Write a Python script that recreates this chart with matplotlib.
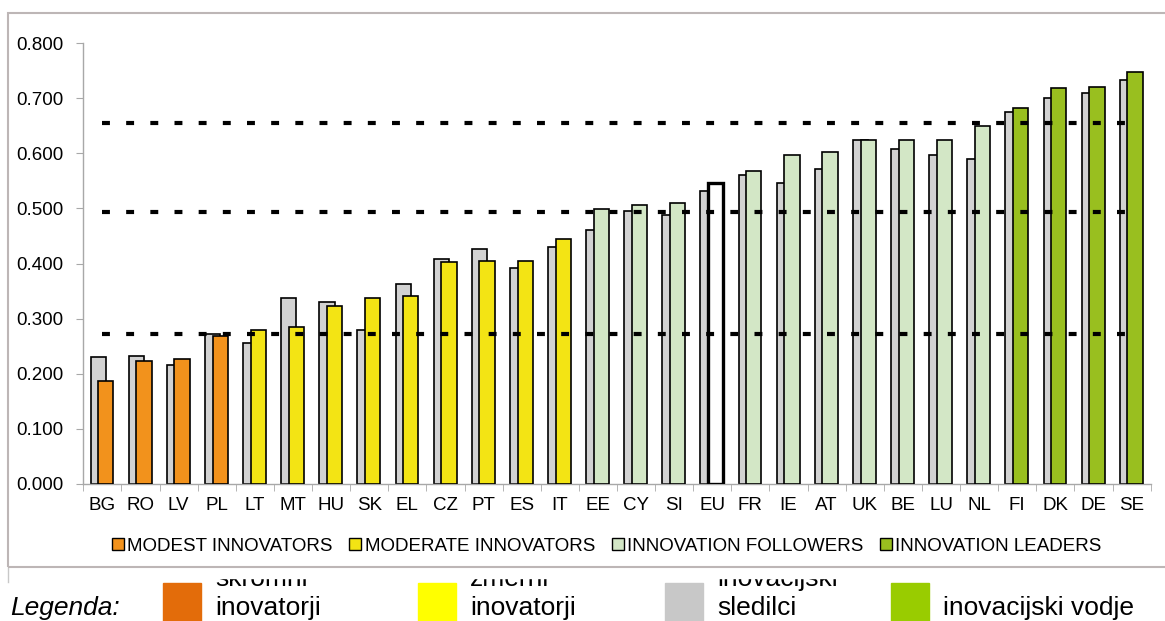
import numpy as np
import matplotlib.pyplot as plt
from matplotlib.patches import Rectangle
from matplotlib.lines import Line2D

countries = ['BG', 'RO', 'LV', 'PL', 'LT', 'MT', 'HU', 'SK', 'EL', 'CZ', 'PT', 'ES', 'IT',
             'EE', 'CY', 'SI', 'EU', 'FR', 'IE', 'AT', 'UK', 'BE', 'LU', 'NL', 'FI', 'DK', 'DE', 'SE']
previous = [0.230, 0.233, 0.216, 0.272, 0.255, 0.338, 0.331, 0.280, 0.363, 0.409, 0.427, 0.391, 0.430,
            0.460, 0.495, 0.488, 0.532, 0.561, 0.546, 0.571, 0.624, 0.607, 0.596, 0.589, 0.674, 0.700, 0.710, 0.732]
current = [0.187, 0.223, 0.226, 0.268, 0.280, 0.284, 0.323, 0.337, 0.341, 0.402, 0.405, 0.405, 0.445,
           0.498, 0.506, 0.509, 0.546, 0.567, 0.596, 0.603, 0.624, 0.624, 0.624, 0.650, 0.682, 0.718, 0.721, 0.747]
groups = ['modest'] * 4 + ['moderate'] * 9 + ['follower'] * 3 + ['eu'] + ['follower'] * 7 + ['leader'] * 4
thresholds = [0.273, 0.493, 0.654]

group_colors = {'modest': '#F2921C', 'moderate': '#F3E414', 'follower': '#D3E7C6',
                'leader': '#99BF1F', 'eu': 'white'}
legend_labels = ['MODEST INNOVATORS', 'MODERATE INNOVATORS', 'INNOVATION FOLLOWERS', 'INNOVATION LEADERS']
legend_keys = ['modest', 'moderate', 'follower', 'leader']

legenda_labels = [('skromni', 'inovatorji'), ('zmerni', 'inovatorji'),
                  ('inovacijski', 'sledilci'), ('', 'inovacijski vodje')]
legenda_colors = ['#E36C0A', '#FFFF00', '#C8C8C8', '#99CC00']

W, H = 1165, 621
plt.rcParams['font.family'] = ['Liberation Sans', 'DejaVu Sans']

fig = plt.figure(figsize=(W / 100, H / 100), dpi=100)
ax = fig.add_axes([83.3 / W, 1 - 484 / H, (1150.7 - 83.3) / W, (484 - 43) / H])

x = np.arange(len(countries))
bw = 0.40
ax.bar(x - 0.11, previous, width=bw, color='#D2D2D2', edgecolor='black', linewidth=1.2, zorder=2)
cols = [group_colors[g] for g in groups]
lws = [2.4 if g == 'eu' else 1.2 for g in groups]
ax.bar(x + 0.09, current, width=bw, color=cols, edgecolor='black', linewidth=lws, zorder=3)

for t in thresholds:
    ax.plot([0, len(countries) - 1], [t, t], color='black', linewidth=3,
            dashes=(1.9, 3.9), solid_capstyle='butt', dash_capstyle='butt', zorder=4)

ax.set_xlim(-0.5, len(countries) - 0.5)
ax.set_ylim(0, 0.8)
ax.set_yticks(np.arange(0, 0.81, 0.1))
ax.set_yticklabels(['%.3f' % v for v in np.arange(0, 0.81, 0.1)], fontsize=13.5)
ax.set_xticks(x)
ax.set_xticklabels(countries, fontsize=13.5)
ax.set_xticks(np.arange(-0.5, len(countries)), minor=True)
ax.tick_params(axis='x', which='major', length=0, pad=9)
ax.tick_params(axis='x', which='minor', length=5, color='#A8A8A8', direction='out')
ax.tick_params(axis='y', length=5, color='#A8A8A8', pad=9)
for s in ['top', 'right']:
    ax.spines[s].set_visible(False)
for s in ['left', 'bottom']:
    ax.spines[s].set_color('#A8A8A8')
    ax.spines[s].set_linewidth(1)

handles = [Line2D([], [], marker='s', linestyle='none', markersize=8, markerfacecolor=group_colors[k],
                  markeredgecolor='black', markeredgewidth=1) for k in legend_keys]
fig.legend(handles, legend_labels, loc='center', bbox_to_anchor=(606 / W, 1 - 546 / H), ncol=4,
           frameon=False, fontsize=13.5, handletextpad=0.1, columnspacing=0.8, handlelength=0.8)

# outer chart frame
fig.patches.append(Rectangle((8 / W, 1 - 567 / H), 1.0, (567 - 13) / H, transform=fig.transFigure,
                             fill=False, edgecolor='#BDB6B6', linewidth=1.5, zorder=6))
fig.lines.append(Line2D([8 / W, 8 / W], [1 - 567 / H, 1 - 582 / H], transform=fig.transFigure,
                        color='#C8C8C8', linewidth=1))

# slovenian legend below the chart
fig.text(10 / W, 1 - 615 / H, 'Legenda:', fontsize=19, style='italic', ha='left', va='baseline')
sq_x = [163, 418, 665, 891]
for i, (top, bottom) in enumerate(legenda_labels):
    fig.patches.append(Rectangle((sq_x[i] / W, 0), 38 / W, 38 / H, transform=fig.transFigure,
                                 color=legenda_colors[i], zorder=2))
    fig.text((sq_x[i] + 52) / W, 1 - 615 / H, bottom, fontsize=19, ha='left', va='baseline', zorder=3)
    if top:
        fig.text((sq_x[i] + 52) / W, 1 - 586 / H, top, fontsize=19, ha='left', va='baseline', zorder=3)
# the first text row is cut off under the frame
fig.patches.append(Rectangle((12 / W, 1 - 578 / H), 1.0, 12 / H, transform=fig.transFigure,
                             color='white', zorder=5))

plt.savefig('out.png', dpi=100)
